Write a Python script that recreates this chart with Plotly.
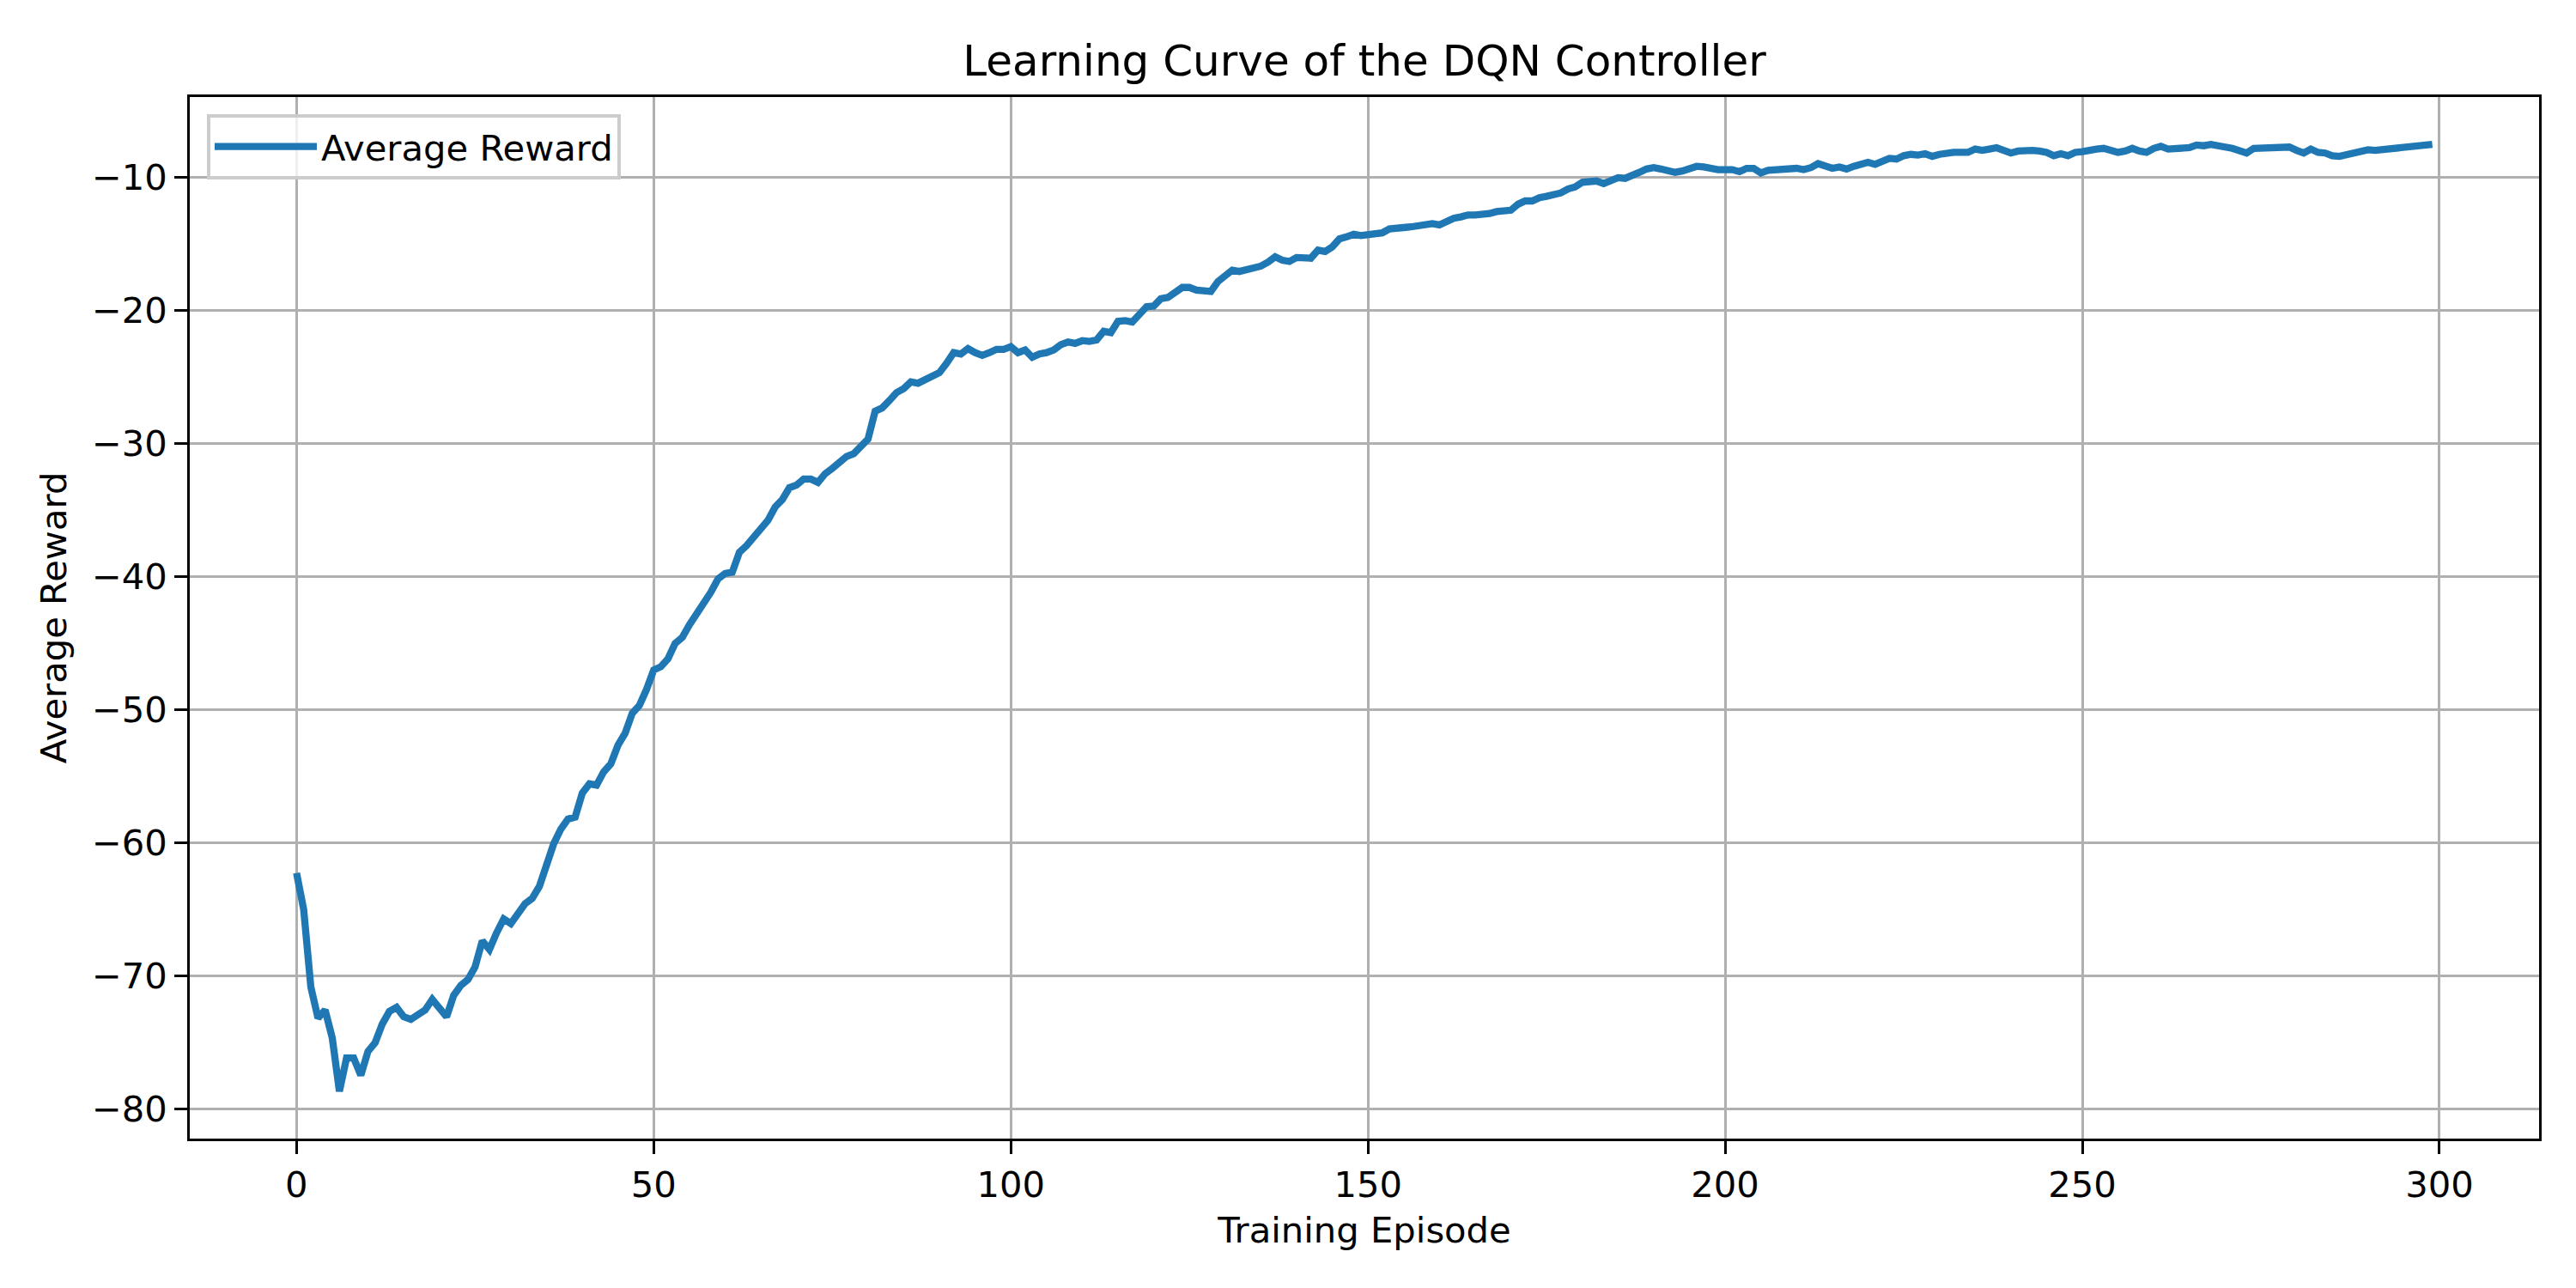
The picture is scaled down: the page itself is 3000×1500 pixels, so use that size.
import plotly.graph_objects as go

# ---- data ----
episodes = list(range(300))
avg_reward = [
    -62.3, -65.05, -70.86, -73.2, -72.6, -74.7, -78.7, -76.2, -76.2, -77.5,
    -75.7, -75.05, -73.65, -72.7, -72.4, -73.1, -73.3, -72.9, -72.6, -71.8,
    -72.5, -73.1, -71.5, -70.75, -70.3, -69.35, -67.4, -68.05, -66.8, -65.75,
    -66.1, -65.3, -64.6, -64.2, -63.3, -61.7, -60.1, -59.0, -58.25, -58.1,
    -56.3, -55.6, -55.7, -54.7, -54.1, -52.7, -51.8, -50.3, -49.7, -48.5,
    -47.05, -46.8, -46.2, -45.05, -44.6, -43.65, -42.8, -42.2, -41.2, -40.2,
    -39.8, -39.7, -38.2, -37.7, -37.1, -36.45, -35.8, -34.8, -34.25, -33.35,
    -33.15, -32.7, -32.7, -32.95, -32.3, -31.9, -31.5, -31.0, -30.8, -30.3,
    -29.7, -27.6, -27.35, -26.8, -26.2, -25.9, -25.4, -25.5, -25.2, -24.95,
    -24.7, -24.0, -23.2, -23.3, -22.9, -23.2, -23.4, -23.2, -22.95, -22.95,
    -22.75, -23.2, -23.0, -23.55, -23.3, -23.2, -23.0, -22.6, -22.4, -22.5,
    -22.3, -22.35, -22.25, -21.6, -21.7, -20.85, -20.8, -20.9, -20.4, -19.75,
    -19.7, -19.15, -19.05, -18.7, -18.3, -18.3, -18.5, -18.55, -18.6, -17.85,
    -17.4, -17.0, -17.1, -17.0, -16.8, -16.7, -16.4, -16.0, -16.25, -16.35,
    -16.05, -16.1, -16.1, -15.5, -15.6, -15.25, -14.65, -14.5, -14.3, -14.4,
    -14.35, -14.35, -14.2, -13.9, -13.8, -13.8, -13.75, -13.65, -13.55, -13.5,
    -13.6, -13.3, -13.1, -13.0, -12.85, -12.85, -12.85, -12.75, -12.6, -12.55,
    -12.5, -12.05, -11.8, -11.8, -11.55, -11.45, -11.35, -11.2, -10.9, -10.75,
    -10.4, -10.35, -10.3, -10.5, -10.2, -10.05, -10.1, -9.8, -9.65, -9.4,
    -9.3, -9.4, -9.55, -9.65, -9.55, -9.35, -9.2, -9.25, -9.4, -9.45,
    -9.45, -9.45, -9.6, -9.35, -9.35, -9.7, -9.5, -9.45, -9.35, -9.35,
    -9.35, -9.45, -9.3, -9.0, -9.15, -9.35, -9.25, -9.4, -9.2, -9.0,
    -8.9, -9.05, -8.8, -8.6, -8.65, -8.4, -8.3, -8.35, -8.25, -8.45,
    -8.3, -8.2, -8.15, -8.15, -8.15, -7.9, -8.0, -7.9, -7.8, -8.0,
    -8.2, -8.05, -8.0, -8.0, -8.05, -8.15, -8.4, -8.25, -8.4, -8.15,
    -8.1, -7.95, -7.9, -7.85, -8.0, -8.15, -8.05, -7.85, -8.05, -8.15,
    -7.85, -7.7, -7.9, -7.9, -7.9, -7.8, -7.6, -7.65, -7.55, -7.6,
    -7.75, -7.85, -8.05, -8.2, -7.85, -7.85, -7.85, -7.85, -7.85, -7.75,
    -8.0, -8.2, -7.9, -8.15, -8.2, -8.4, -8.45, -8.35, -8.25, -8.15,
    -7.95, -8.0, -7.95, -7.8, -7.8, -7.7, -7.65, -7.6, -7.55, -7.55,
]
x_ticks = [0, 50, 100, 150, 200, 250, 300]
y_ticks = [-80, -70, -60, -50, -40, -30, -20, -10]

title_text = "Learning Curve of the DQN Controller"
x_label = "Training Episode"
y_label = "Average Reward"
series_name = "Average Reward"

# ---- axis ranges like matplotlib's 5% margins ----
xmin, xmax = min(episodes), max(episodes)
ymin, ymax = min(avg_reward), max(avg_reward)
xpad = (xmax - xmin) * 0.05
ypad = (ymax - ymin) * 0.05

FONT = "DejaVu Sans"
FS = 41.7
GRID = "#b0b0b0"

fig = go.Figure()
fig.add_trace(go.Scatter(
    x=episodes, y=avg_reward, mode="lines", name=series_name,
    line=dict(color="#1f77b4", width=8.3),
))

axis_common = dict(
    showline=True, linecolor="black", linewidth=3.3, mirror=True,
    ticks="outside", ticklen=14.6, tickwidth=3.3, tickcolor="black",
    showgrid=True, gridcolor=GRID, gridwidth=3.3,
    zeroline=False,
    tickfont=dict(family=FONT, size=FS, color="black"),
)

fig.update_layout(
    width=3000, height=1500,
    margin=dict(l=213, r=51, t=105, b=182),
    paper_bgcolor="white", plot_bgcolor="white",
    font=dict(family=FONT, size=FS, color="black"),
    title=dict(
        text=title_text, x=0.5, xanchor="center",
        xref="paper", yref="container", y=1 - 80 / 1500, yanchor="bottom",
        font=dict(family=FONT, size=50, color="black"),
    ),
    xaxis=dict(
        range=[xmin - xpad, xmax + xpad], tickvals=x_ticks,
        title=dict(text=x_label, standoff=16, font=dict(family=FONT, size=FS)),
        **axis_common,
    ),
    yaxis=dict(
        range=[ymin - ypad, ymax + ypad], tickvals=y_ticks,
        title=dict(text=y_label, standoff=17, font=dict(family=FONT, size=FS)),
        **axis_common,
    ),
    showlegend=True,
    legend=dict(
        x=0.0073, y=0.9835, xanchor="left", yanchor="top",
        bgcolor="rgba(255,255,255,0.8)", bordercolor="#cccccc", borderwidth=4,
        font=dict(family=FONT, size=FS, color="black"),
        itemwidth=119,
    ),
)

fig.write_html("out.html")
